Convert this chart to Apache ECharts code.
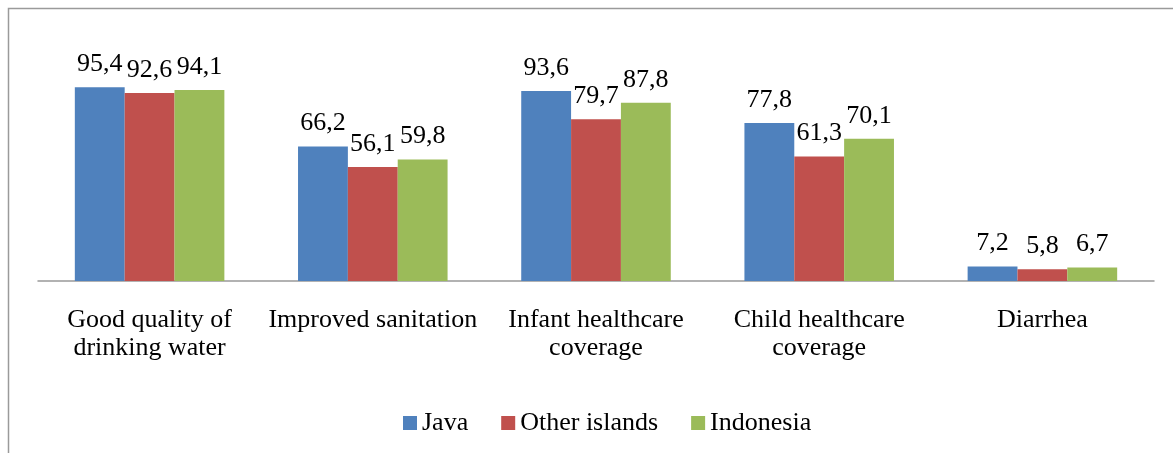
<!DOCTYPE html>
<html>
<head>
<meta charset="utf-8">
<script src="https://cdn.jsdelivr.net/npm/echarts@6/dist/echarts.min.js"></script>
<style>
html,body{margin:0;padding:0;background:#fff;}
#c{width:1173px;height:453px;}
</style>
</head>
<body>
<div id="c"></div>
<script>
const categories = ["Good quality of\ndrinking water", "Improved sanitation", "Infant healthcare\ncoverage", "Child healthcare\ncoverage", "Diarrhea"];
const java = [95.4, 66.2, 93.6, 77.8, 7.2];
const otherIslands = [92.6, 56.1, 79.7, 61.3, 5.8];
const indonesia = [94.1, 59.8, 87.8, 70.1, 6.7];
const seriesNames = ["Java", "Other islands", "Indonesia"];
const colors = ["#4F81BD", "#C0504D", "#9BBB59"];

const font = "'Liberation Serif', 'Times New Roman', serif";
const chart = echarts.init(document.getElementById('c'));
const mk = (name, data, color) => ({
  name: name,
  type: 'bar',
  data: data,
  barGap: '0%',
  barCategoryGap: '33%',
  itemStyle: { color: color },
  label: {
    show: true,
    position: 'top',
    distance: 10,
    fontFamily: font,
    fontSize: 26,
    color: '#000',
    formatter: p => String(p.value).replace('.', ',')
  }
});
chart.setOption({
  animation: false,
  backgroundColor: '#fff',
  graphic: [{
    type: 'rect',
    shape: { x: 8.5, y: 8.5, width: 1200, height: 500 },
    style: { fill: 'none', stroke: '#9a9a9a', lineWidth: 1.5 },
    silent: true
  }],
  grid: { left: 38, right: 19, top: 78, bottom: 172 },
  legend: {
    top: 405,
    left: 398,
    itemWidth: 14,
    itemHeight: 14,
    itemGap: 33,
    icon: 'rect',
    textStyle: { fontFamily: font, fontSize: 26, color: '#000' },
    data: seriesNames
  },
  xAxis: {
    type: 'category',
    data: categories,
    axisLine: { lineStyle: { color: '#999', width: 1.5 } },
    axisTick: { show: false },
    axisLabel: {
      interval: 0,
      margin: 25,
      fontFamily: font,
      fontSize: 26,
      lineHeight: 28,
      color: '#000'
    }
  },
  yAxis: {
    type: 'value',
    min: 0,
    max: 100,
    show: false,
    splitLine: { show: false }
  },
  series: [
    mk(seriesNames[0], java, colors[0]),
    mk(seriesNames[1], otherIslands, colors[1]),
    mk(seriesNames[2], indonesia, colors[2])
  ]
});
</script>
</body>
</html>
